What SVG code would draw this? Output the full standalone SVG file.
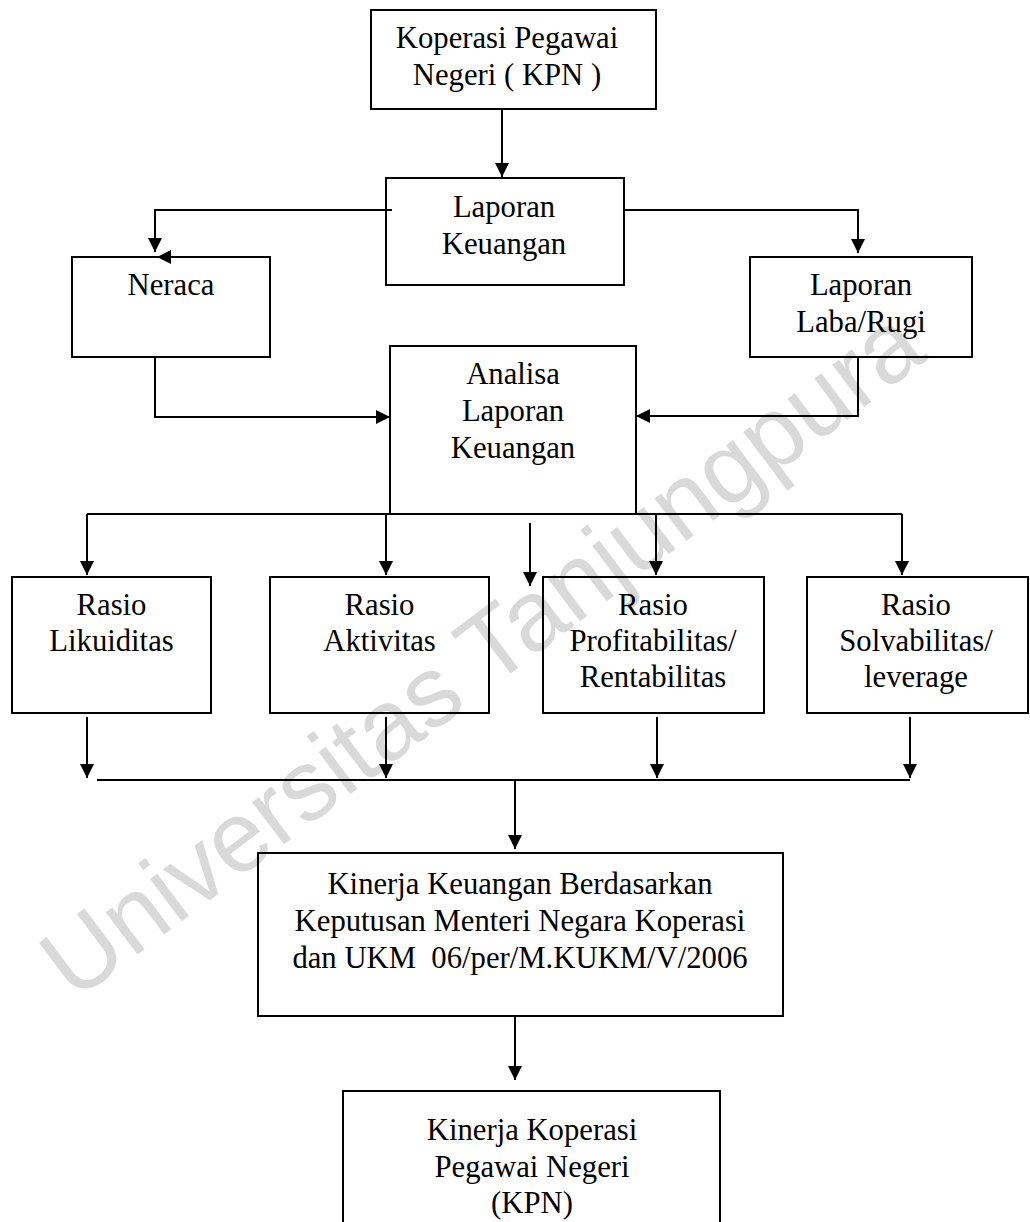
<svg xmlns="http://www.w3.org/2000/svg" width="1030" height="1222" viewBox="0 0 1030 1222">
<style>
.box{fill:none;stroke:#000;stroke-width:2}
.t{font-family:"Liberation Serif","Times New Roman",serif;font-size:30.7px;fill:#000;text-anchor:middle}
.c{fill:none;stroke:#000;stroke-width:2}
.wm{font-family:"Liberation Sans",Arial,sans-serif;font-size:100px;fill:#d9d9d9;text-anchor:middle}
</style>
<defs>
<marker id="ah" viewBox="0 0 10 10" refX="10" refY="5" markerWidth="15" markerHeight="14" markerUnits="userSpaceOnUse" orient="auto">
<path d="M0,0 L10,5 L0,10 z" fill="#000"/>
</marker>
</defs>
<rect width="1030" height="1222" fill="#fff"/>
<text class="wm" x="502" y="680" transform="rotate(-37 502 680)">Universitas Tanjungpura</text>

<g id="n-kpn"><rect class="box" x="371" y="10" width="285" height="99"/>
<text class="t" x="507" y="48">Koperasi Pegawai</text><text class="t" x="507" y="85">Negeri ( KPN )</text></g>
<g id="n-lapkeu"><rect class="box" x="386" y="178" width="238" height="107"/>
<text class="t" x="504" y="217">Laporan</text><text class="t" x="504" y="254">Keuangan</text></g>
<g id="n-neraca"><rect class="box" x="72" y="257" width="198" height="100"/>
<text class="t" x="171" y="295">Neraca</text></g>
<g id="n-labarugi"><rect class="box" x="750" y="257" width="222" height="100"/>
<text class="t" x="861" y="295">Laporan</text><text class="t" x="861" y="332">Laba/Rugi</text></g>
<g id="n-analisa"><rect class="box" x="390" y="346" width="246" height="168"/>
<text class="t" x="513" y="384">Analisa</text><text class="t" x="513" y="421">Laporan</text><text class="t" x="513" y="458">Keuangan</text></g>
<g id="n-likuiditas"><rect class="box" x="12" y="577" width="199" height="136"/>
<text class="t" x="111.5" y="615">Rasio</text><text class="t" x="111.5" y="651">Likuiditas</text></g>
<g id="n-aktivitas"><rect class="box" x="270" y="577" width="219" height="136"/>
<text class="t" x="379.5" y="615">Rasio</text><text class="t" x="379.5" y="651">Aktivitas</text></g>
<g id="n-profit"><rect class="box" x="543" y="577" width="221" height="136"/>
<text class="t" x="653" y="615">Rasio</text><text class="t" x="653" y="651">Profitabilitas/</text><text class="t" x="653" y="687">Rentabilitas</text></g>
<g id="n-solva"><rect class="box" x="807" y="577" width="221" height="136"/>
<text class="t" x="916" y="615">Rasio</text><text class="t" x="916" y="651">Solvabilitas/</text><text class="t" x="916" y="687">leverage</text></g>
<g id="n-kinerjakeu"><rect class="box" x="258" y="853" width="525" height="163"/>
<text class="t" x="520" y="894">Kinerja Keuangan Berdasarkan</text><text class="t" x="520" y="931">Keputusan Menteri Negara Koperasi</text><text class="t" x="520" y="968" xml:space="preserve">dan UKM  06/per/M.KUKM/V/2006</text></g>
<g id="n-kinerjakpn"><rect class="box" x="343" y="1091" width="377" height="140"/>
<text class="t" x="532" y="1140">Kinerja Koperasi</text><text class="t" x="532" y="1177">Pegawai Negeri</text><text class="t" x="532" y="1213">(KPN)</text></g>

<g id="connectors">
<path class="c" d="M502,110 V177" marker-end="url(#ah)"/>
<path class="c" d="M392,210 H155 V252" marker-end="url(#ah)"/>
<path class="c" d="M172,257 H157" marker-end="url(#ah)"/>
<path class="c" d="M624,210 H858 V253" marker-end="url(#ah)"/>
<path class="c" d="M155,357 V417 H390" marker-end="url(#ah)"/>
<path class="c" d="M858,357 V416 H636" marker-end="url(#ah)"/>
<path class="c" d="M87,514 H902"/>
<path class="c" d="M87,514 V575" marker-end="url(#ah)"/>
<path class="c" d="M386,514 V575" marker-end="url(#ah)"/>
<path class="c" d="M656,514 V575" marker-end="url(#ah)"/>
<path class="c" d="M902,514 V575" marker-end="url(#ah)"/>
<path class="c" d="M530,523 V586" marker-end="url(#ah)"/>
<path class="c" d="M87,717 V778" marker-end="url(#ah)"/>
<path class="c" d="M386,717 V778" marker-end="url(#ah)"/>
<path class="c" d="M657,717 V778" marker-end="url(#ah)"/>
<path class="c" d="M910,717 V778" marker-end="url(#ah)"/>
<path class="c" d="M97,780 H910"/>
<path class="c" d="M515,780 V849" marker-end="url(#ah)"/>
<path class="c" d="M515,1016 V1080" marker-end="url(#ah)"/>
</g>
</svg>
